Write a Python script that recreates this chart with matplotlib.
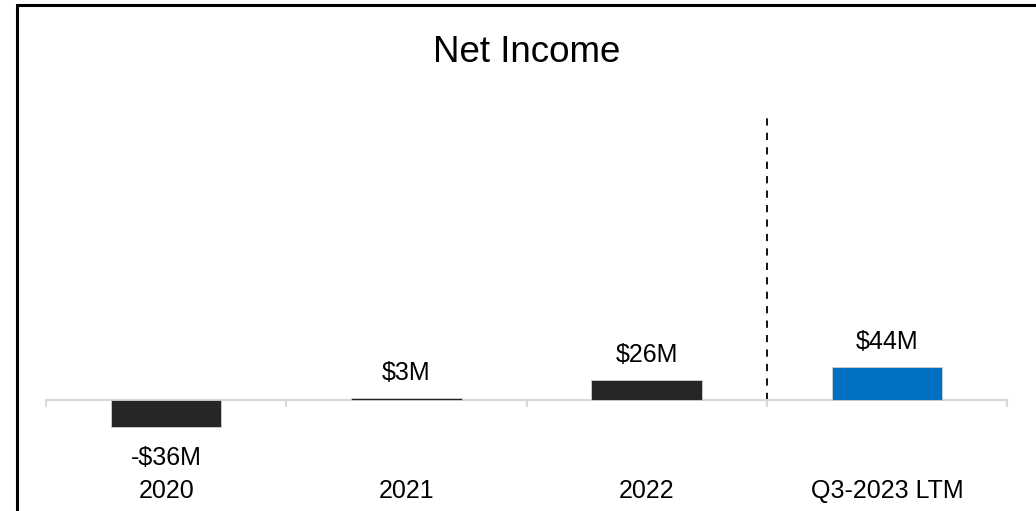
"""
Net Income bar chart, recreated with matplotlib.
"""
import matplotlib.pyplot as plt
from matplotlib.patches import Rectangle

# Data
categories = ['2020', '2021', '2022', 'Q3-2023 LTM']
net_income = [-36, 3, 26, 44]  # $M
value_labels = ['-$36M', '$3M', '$26M', '$44M']
bar_colors = ['#262626', '#262626', '#262626', '#0070C0']

plt.rcParams['font.family'] = ['Liberation Sans', 'DejaVu Sans']

fig = plt.figure(figsize=(10.36, 5.11), dpi=100)
W, H = 1036, 511

# axes placed in pixel terms: x 46..1007, y 115..470 (from top)
ax = fig.add_axes([46 / W, (H - 470) / H, 961 / W, 355 / H])
ax.set_xlim(-0.5, 3.5)
ax.set_ylim(-92, 375)

x = list(range(len(categories)))
ax.bar(x, net_income, width=0.46, color=bar_colors, edgecolor='#d0d0d0', linewidth=0.6, zorder=3)

# value labels
for xi, v, lab in zip(x, net_income, value_labels):
    if v >= 0:
        ax.annotate(lab, (xi, v), xytext=(0, 18), textcoords='offset points',
                    ha='center', va='center', fontsize=18)
    else:
        ax.annotate(lab, (xi, v), xytext=(0, -22), textcoords='offset points',
                    ha='center', va='center', fontsize=18)

# separator before LTM column
ax.vlines(2.5, 0, 378, colors='black', linestyles=(0, (4, 4)), linewidth=1.3, zorder=2,
          clip_on=False)

# axis styling
for side in ['top', 'right', 'left']:
    ax.spines[side].set_visible(False)
ax.spines['bottom'].set_position(('data', 0))
ax.spines['bottom'].set_color('#d9d9d9')
ax.spines['bottom'].set_linewidth(1.5)
ax.set_yticks([])
ax.set_xticks(x)
ax.set_xticklabels(categories, fontsize=18)
ax.set_xticks([-0.5, 0.5, 1.5, 2.5, 3.5], minor=True)
ax.tick_params(axis='x', which='major', length=0, pad=57)
ax.tick_params(axis='x', which='minor', length=5, width=1.5, color='#d9d9d9')

fig.text(527 / W, 1 - 52 / H, 'Net Income', ha='center', va='center', fontsize=26.5)

# outer frame (only top and left visible in the crop)
fig.patches.append(Rectangle((16.5 / W, -0.1), 1.2, 1.1 - 5.5 / H, transform=fig.transFigure,
                             fill=False, edgecolor='black', linewidth=2.2))

fig.savefig('out.png', dpi=100)
plt.close(fig)
